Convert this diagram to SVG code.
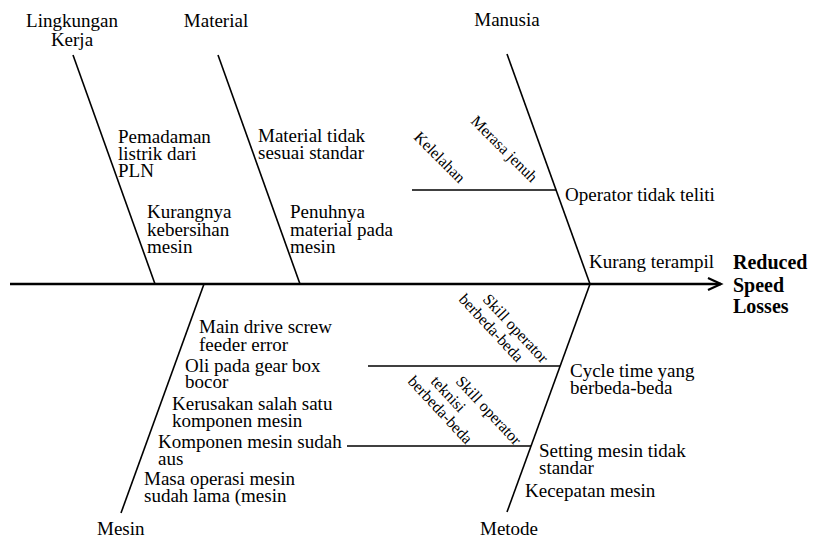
<svg xmlns="http://www.w3.org/2000/svg" width="815" height="541" viewBox="0 0 815 541">
<style>
text{font-family:"Liberation Serif","Times New Roman",serif;font-size:19px;fill:#000}
.c{text-anchor:middle}
.r{font-size:16px}
.h{font-weight:bold;font-size:20px}
.bone{stroke:#000;stroke-width:1.6;fill:none}
.spine{stroke:#000;stroke-width:2.4;fill:none}
</style>
<defs>
<marker id="arrow" markerUnits="userSpaceOnUse" markerWidth="20" markerHeight="20" refX="14" refY="7" orient="auto" overflow="visible">
<path d="M1,1 L14,7 L1,13" fill="none" stroke="#000" stroke-width="2.2"/>
</marker>
</defs>
<rect width="815" height="541" fill="#fff"/>
<g id="connectors">
<line class="spine" x1="10" y1="284" x2="721" y2="284" marker-end="url(#arrow)"/>
<line class="bone" x1="73" y1="55" x2="155" y2="284"/>
<line class="bone" x1="218" y1="55" x2="300" y2="284"/>
<line class="bone" x1="507" y1="54" x2="590" y2="284"/>
<line class="bone" x1="204" y1="284" x2="121" y2="513"/>
<line class="bone" x1="590" y1="284" x2="507" y2="512"/>
<line class="bone" x1="412" y1="190" x2="556" y2="190"/>
<line class="bone" x1="368" y1="366" x2="560" y2="366"/>
<line class="bone" x1="347" y1="446" x2="531" y2="446"/>
</g>
<g id="lingkungan-kerja">
<text class="c" x="72" y="27">Lingkungan</text>
<text class="c" x="72" y="46">Kerja</text>
<text x="118" y="143">Pemadaman</text>
<text x="118" y="160">listrik dari</text>
<text x="118" y="177">PLN</text>
<text x="147" y="218">Kurangnya</text>
<text x="147" y="236">kebersihan</text>
<text x="147" y="253">mesin</text>
</g>
<g id="material">
<text class="c" x="216" y="27">Material</text>
<text x="258" y="142">Material tidak</text>
<text x="258" y="159">sesuai standar</text>
<text x="290" y="218">Penuhnya</text>
<text x="290" y="236">material pada</text>
<text x="290" y="253">mesin</text>
</g>
<g id="manusia">
<text class="c" x="507" y="26">Manusia</text>
<text x="565" y="201">Operator tidak teliti</text>
<text x="589" y="268">Kurang terampil</text>
<text class="r" transform="translate(413,138) rotate(45)">Kelelahan</text>
<text class="r" transform="translate(470,122) rotate(45)">Merasa jenuh</text>
</g>
<g id="mesin">
<text x="97" y="535">Mesin</text>
<text x="199" y="333">Main drive screw</text>
<text x="199" y="351">feeder error</text>
<text x="185" y="372">Oli pada gear box</text>
<text x="185" y="388">bocor</text>
<text x="172" y="410">Kerusakan salah satu</text>
<text x="172" y="427">komponen mesin</text>
<text x="158" y="448">Komponen mesin sudah</text>
<text x="158" y="465">aus</text>
<text x="144" y="485">Masa operasi mesin</text>
<text x="144" y="502">sudah lama (mesin</text>
</g>
<g id="metode">
<text x="480" y="535">Metode</text>
<text x="570" y="377">Cycle time yang</text>
<text x="570" y="394">berbeda-beda</text>
<text x="539" y="457">Setting mesin tidak</text>
<text x="539" y="474">standar</text>
<text x="525" y="497">Kecepatan mesin</text>
<text class="r" transform="translate(482,300) rotate(47)">Skill operator</text>
<text class="r" transform="translate(458,300) rotate(47)">berbeda-beda</text>
<text class="r" transform="translate(455,382) rotate(47)">Skill operator</text>
<text class="r" transform="translate(430,382) rotate(47)">teknisi</text>
<text class="r" transform="translate(407,382) rotate(47)">berbeda-beda</text>
</g>
<g id="reduced-speed-losses">
<text class="h" x="733" y="269">Reduced</text>
<text class="h" x="733" y="292">Speed</text>
<text class="h" x="733" y="313">Losses</text>
</g>
</svg>
